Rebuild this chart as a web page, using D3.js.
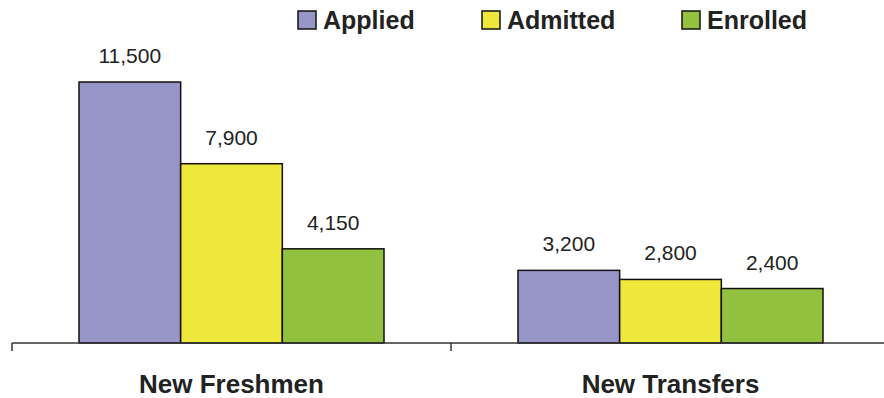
<!DOCTYPE html>
<html>
<head>
<meta charset="utf-8">
<script src="https://cdn.jsdelivr.net/npm/d3@7"></script>
<style>
  body { margin: 0; background: #fff; }
  text { font-family: "Liberation Sans", Arial, sans-serif; fill: #222; }
  .value { font-size: 21px; }
  .cat { font-size: 26px; font-weight: bold; }
  .legend { font-size: 25px; font-weight: bold; }
</style>
</head>
<body>
<svg id="chart" width="884" height="398"></svg>
<script>
// data
const categories = ["New Freshmen", "New Transfers"];
const series = ["Applied", "Admitted", "Enrolled"];
const applied = [11500, 3200];
const admitted = [7900, 2800];
const enrolled = [4150, 2400];
const colors = ["#9794c8", "#eee83c", "#92c13f"];

const values = [applied, admitted, enrolled];

const svg = d3.select("#chart");

// scales
const x0 = d3.scaleBand()
    .domain(categories)
    .range([12, 890]);

const groupPad = (x0.bandwidth() - 305) / 2;
const x1 = d3.scaleBand()
    .domain(series)
    .range([groupPad, x0.bandwidth() - groupPad]);

const y = d3.scaleLinear()
    .domain([0, 11500])
    .range([343, 82]);

// bars
const groups = svg.selectAll("g.group")
    .data(categories)
    .join("g")
    .attr("class", "group")
    .attr("transform", d => `translate(${x0(d)},0)`);

groups.each(function(cat, ci) {
    const g = d3.select(this);
    series.forEach((s, si) => {
        const v = values[si][ci];
        g.append("rect")
            .attr("x", x1(s))
            .attr("y", y(v))
            .attr("width", x1.bandwidth())
            .attr("height", y(0) - y(v))
            .attr("fill", colors[si])
            .attr("stroke", "#111")
            .attr("stroke-width", 1.5);
        g.append("text")
            .attr("class", "value")
            .attr("x", x1(s) + x1.bandwidth() / 2)
            .attr("y", y(v) - 19)
            .attr("text-anchor", "middle")
            .text(d3.format(",")(v));
    });
});

// x axis
const xAxis = svg.append("g")
    .attr("transform", `translate(0,${y(0)})`)
    .call(d3.axisBottom(x0).tickSize(0).tickFormat(""));
xAxis.select(".domain").remove();
xAxis.append("line")
    .attr("x1", 12).attr("x2", 890)
    .attr("stroke", "#333").attr("stroke-width", 1.5);
// boundary ticks between categories
xAxis.selectAll("line.bound")
    .data(categories)
    .join("line")
    .attr("class", "bound")
    .attr("x1", d => x0(d)).attr("x2", d => x0(d))
    .attr("y1", 0).attr("y2", 8)
    .attr("stroke", "#333").attr("stroke-width", 1.5);

svg.selectAll("text.cat")
    .data(categories)
    .join("text")
    .attr("class", "cat")
    .attr("x", d => x0(d) + x0.bandwidth() / 2)
    .attr("y", 393)
    .attr("text-anchor", "middle")
    .text(d => d);

// legend
const legendX = [298, 482, 682];
const legend = svg.selectAll("g.legend-item")
    .data(series)
    .join("g")
    .attr("class", "legend-item")
    .attr("transform", (d, i) => `translate(${legendX[i]},11)`);

legend.append("rect")
    .attr("width", 18).attr("height", 18)
    .attr("fill", (d, i) => colors[i])
    .attr("stroke", "#111").attr("stroke-width", 1.5);

legend.append("text")
    .attr("class", "legend")
    .attr("x", 25)
    .attr("y", 18)
    .text(d => d);
</script>
</body>
</html>
